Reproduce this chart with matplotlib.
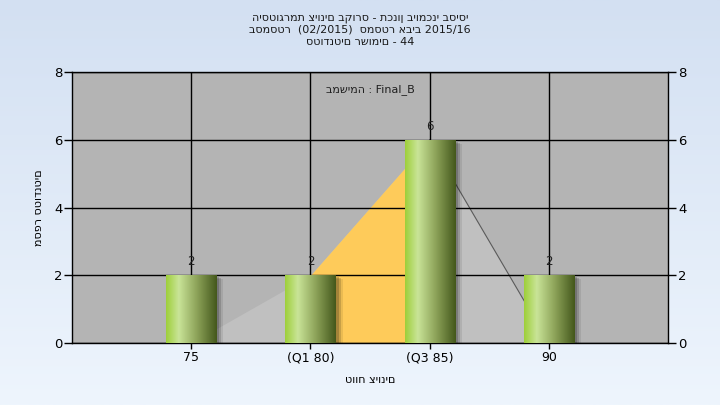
import numpy as np
import matplotlib
matplotlib.use("Agg")
import matplotlib.pyplot as plt
import matplotlib.transforms as mtransforms
from matplotlib.colors import LinearSegmentedColormap

# data
categories = ["75", "(Q1 80)", "(Q3 85)", "90"]
students = [2, 2, 6, 2]
# outline of the background area behind the bars
curve_values = [0, 2, 6, 0]
q1_index, q3_index = 1, 2

title_lines = [
    "היסטוגרמת ציונים בקורס - תכנון ביומכני בסיסי",
    "בסמסטר  (02/2015)  סמסטר אביב 2015/16",
    "סטודנטים רשומים - 44",
]
task_label = "במשימה : Final_B"
x_title = "טווח ציונים"
y_title = "מספר סטודנטים"

plt.rcParams['font.family'] = ['DejaVu Sans']

fig = plt.figure(figsize=(7.2, 4.05), dpi=100)

# light blue gradient background
bg = fig.add_axes([0, 0, 1, 1], zorder=-10)
bg_cmap = LinearSegmentedColormap.from_list("bg", ["#d3e0f2", "#eef5fd"])
bg.imshow(np.linspace(0, 1, 256).reshape(-1, 1), aspect="auto", cmap=bg_cmap,
          extent=[0, 1, 0, 1])
bg.axis("off")

ax = fig.add_axes([0.1, 0.153, 0.828, 0.669])
ax.set_facecolor("#b4b4b4")
x = np.arange(len(categories))

# background area, Q1..Q3 part in yellow
ax.fill_between(x, curve_values, color="#c0c0c0", lw=0, zorder=1)
ax.fill_between(x[q1_index:q3_index + 1], curve_values[q1_index:q3_index + 1],
                color="#fecb5a", lw=0, zorder=1.5)
ax.plot(x[q3_index:], curve_values[q3_index:], color="#5a5a5a", lw=0.8, zorder=1.6)

# grid
for v in x:
    ax.axvline(v, color="black", lw=1, zorder=2)
for v in range(0, 9, 2):
    ax.axhline(v, color="black", lw=1, zorder=2)

# bar shadows
for dx, dy, a in [(7, -4, 0.08), (5, -3, 0.14), (3, -2, 0.18)]:
    tr = mtransforms.offset_copy(ax.transData, fig=fig, x=dx, y=dy, units="dots")
    ax.bar(x, students, width=0.42, color="black", alpha=a, lw=0,
           transform=tr, zorder=3)

# bars with a cylinder-like gradient
bars = ax.bar(x, students, width=0.42, color="none", lw=0, zorder=4)
bar_cmap = LinearSegmentedColormap.from_list(
    "bar", [(0.0, "#9ecf3a"), (0.25, "#c9e498"), (0.6, "#8ea45a"), (1.0, "#44581c")])
grad = np.linspace(0, 1, 200).reshape(1, -1)
for b in bars:
    im = ax.imshow(grad, aspect="auto", cmap=bar_cmap, zorder=4,
                   extent=[b.get_x(), b.get_x() + b.get_width(), 0, b.get_height()])
    im.set_clip_path(b)

for xi, v in zip(x, students):
    ax.annotate(str(v), (xi, v), xytext=(0, 5), textcoords="offset points",
                ha="center", va="bottom", fontsize=8.5, color="#202020", zorder=5)

ax.set_xlim(-1, 4)
ax.set_ylim(0, 8)
ax.set_xticks(x)
ax.set_xticklabels(categories, fontsize=9)
ax.set_yticks(range(0, 9, 2))
ax.tick_params(axis="y", which="both", direction="out", length=6, width=1,
               labelsize=9.5, left=True, right=True, labelleft=True, labelright=True,
               pad=1)
ax.tick_params(axis="x", direction="out", length=4, width=1, pad=2)
for s in ax.spines.values():
    s.set_color("black")
    s.set_linewidth(1)

ax.set_xlabel(x_title, fontsize=8, labelpad=8)
ax.set_ylabel(y_title, fontsize=8, labelpad=7)

ax.text(0.5, 0.955, task_label, transform=ax.transAxes, ha="center",
        va="top", fontsize=8, color="#202020", zorder=6)

for i, line in enumerate(title_lines):
    fig.text(0.5, 1 - (18 + 12 * i) / 405, line, ha="center", va="center",
             fontsize=8, color="#1a1a1a")

fig.savefig("out.png", dpi=100)
